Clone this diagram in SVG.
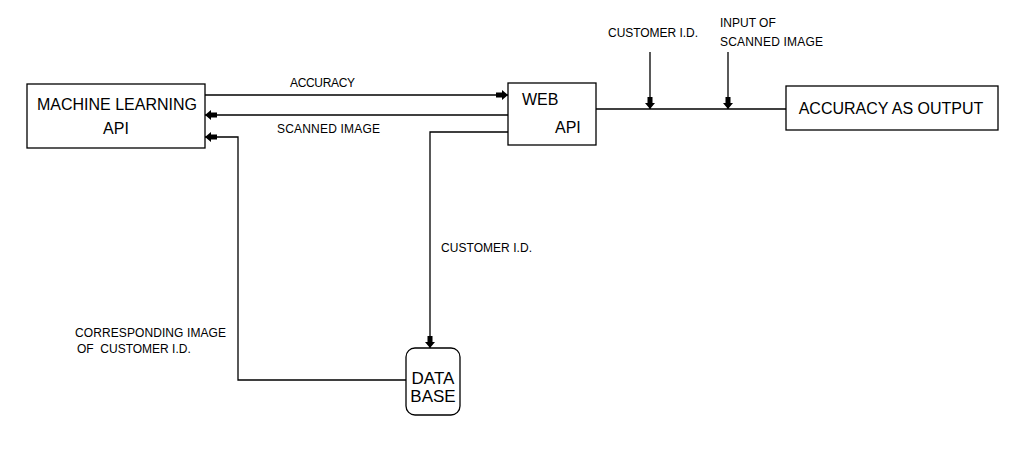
<svg xmlns="http://www.w3.org/2000/svg" width="1033" height="456" viewBox="0 0 1033 456">
<style>
.box{fill:#fff;stroke:#000;stroke-width:1.3}
.ln{fill:none;stroke:#000;stroke-width:1.3}
.big{font-family:"Liberation Sans",Arial,sans-serif;font-size:16px;fill:#000}
.sm{font-family:"Liberation Sans",Arial,sans-serif;font-size:12px;fill:#000}
</style>
<defs>
<marker id="ah" viewBox="0 0 12 10" refX="12" refY="5" markerWidth="12" markerHeight="10" markerUnits="userSpaceOnUse" orient="auto">
<path d="M0,2.5 H6 V0 L12,5 L6,10 V7.5 H0 Z" fill="#000"/>
</marker>
</defs>
<rect width="1033" height="456" fill="#fff"/>
<g id="connectors">
<line class="ln" x1="205" y1="95" x2="508" y2="95" marker-end="url(#ah)"/>
<line class="ln" x1="508" y1="115" x2="205" y2="115" marker-end="url(#ah)"/>
<polyline class="ln" points="407,380 238,380 238,137 205,137" marker-end="url(#ah)"/>
<polyline class="ln" points="508,132 430,132 430,348" marker-end="url(#ah)"/>
<line class="ln" x1="596" y1="109" x2="786" y2="109"/>
<line class="ln" x1="650" y1="52" x2="650" y2="109" marker-end="url(#ah)"/>
<line class="ln" x1="728" y1="52" x2="728" y2="109" marker-end="url(#ah)"/>
<text class="sm" x="290" y="87" textLength="65">ACCURACY</text>
<text class="sm" x="277" y="133" textLength="103">SCANNED IMAGE</text>
<text class="sm" x="441" y="252" textLength="91">CUSTOMER I.D.</text>
<text class="sm" x="75" y="337" textLength="151">CORRESPONDING IMAGE</text>
<text class="sm" x="77" y="353" xml:space="preserve">OF  CUSTOMER I.D.</text>
<text class="sm" x="608" y="37" textLength="90">CUSTOMER I.D.</text>
<text class="sm" x="720" y="27">INPUT OF</text>
<text class="sm" x="720" y="46" textLength="103">SCANNED IMAGE</text>
</g>
<g id="ml-api">
<rect class="box" x="27" y="84" width="178" height="64"/>
<text class="big" x="117" y="110" text-anchor="middle">MACHINE LEARNING</text>
<text class="big" x="116" y="134" text-anchor="middle">API</text>
</g>
<g id="web-api">
<rect class="box" x="508" y="83" width="88" height="62"/>
<text class="big" x="522" y="105">WEB</text>
<text class="big" x="555" y="133">API</text>
</g>
<g id="output">
<rect class="box" x="786" y="86" width="212" height="44"/>
<text class="big" x="891" y="114" text-anchor="middle">ACCURACY AS OUTPUT</text>
</g>
<g id="database">
<rect class="box" x="406" y="348" width="54" height="67" rx="9"/>
<text class="big" x="433" y="384" text-anchor="middle" style="font-size:17px">DATA</text>
<text class="big" x="433" y="402" text-anchor="middle" style="font-size:17px">BASE</text>
</g>
</svg>
